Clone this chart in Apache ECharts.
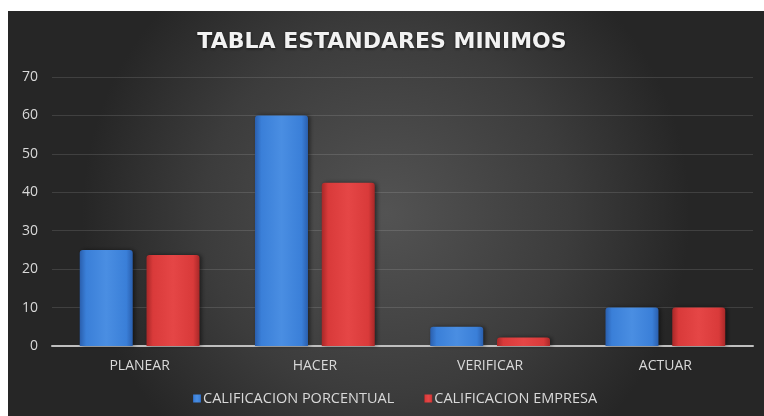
<!DOCTYPE html>
<html><head><meta charset="utf-8">
<script src="https://cdn.jsdelivr.net/npm/echarts@6/dist/echarts.min.js"></script>
<style>html,body{margin:0;padding:0;background:#fff}#c{width:764px;height:416px}</style>
</head><body><div id="c"></div>
<script>
var categories = ['PLANEAR', 'HACER', 'VERIFICAR', 'ACTUAR'];
var porcentual = [25, 60, 5, 10];
var empresa = [23.7, 42.5, 2.2, 10];
var yTicks = [0, 10, 20, 30, 40, 50, 60, 70];
var seriesNames = ['CALIFICACION PORCENTUAL', 'CALIFICACION EMPRESA'];

function barGrad(dark, mid, light) {
  return new echarts.graphic.LinearGradient(0, 0, 1, 0, [
    {offset: 0, color: dark}, {offset: 0.12, color: mid}, {offset: 0.5, color: light},
    {offset: 0.88, color: mid}, {offset: 1, color: dark}
  ]);
}
var chart = echarts.init(document.getElementById('c'));
chart.setOption({
  backgroundColor: '#ffffff',
  graphic: [{
    type: 'rect', z: -10, silent: true,
    shape: {x: 8, y: 11, width: 756, height: 405},
    style: {fill: {type: 'radial', x: 0.5, y: 0.5, r: 0.75, colorStops: [
      {offset: 0, color: '#535353'}, {offset: 0.6, color: '#3c3c3c'}, {offset: 1, color: '#262626'}]}}
  }],
  title: {
    text: 'TABLA ESTANDARES MINIMOS', left: 'center', top: 26,
    textStyle: {color: '#f2f2f2', fontFamily: 'DejaVu Sans', fontWeight: 'bold', fontSize: 22,
      textShadowColor: 'rgba(0,0,0,0.6)', textShadowBlur: 3, textShadowOffsetY: 1}
  },
  legend: {
    data: seriesNames, bottom: 5, left: 188, itemWidth: 8, itemHeight: 8, itemGap: 30,
    icon: 'rect',
    textStyle: {color: '#d9d9d9', fontFamily: 'Open Sans', fontSize: 14.5, padding: [0, 0, 0, -3]}
  },
  grid: {left: 52, right: 11, top: 77, bottom: 70},
  xAxis: {
    type: 'category', data: categories,
    axisLine: {lineStyle: {color: '#bfbfbf', width: 2}},
    axisTick: {show: false},
    axisLabel: {color: '#d9d9d9', fontFamily: 'Open Sans', fontSize: 14, margin: 13}
  },
  yAxis: {
    type: 'value', min: yTicks[0], max: yTicks[yTicks.length - 1], interval: 10,
    axisLine: {show: false}, axisTick: {show: false},
    splitLine: {lineStyle: {color: 'rgba(255,255,255,0.12)', width: 1}},
    axisLabel: {color: '#d9d9d9', fontFamily: 'Open Sans', fontSize: 14, margin: 14}
  },
  series: [{
    name: seriesNames[0], type: 'bar', data: porcentual, barWidth: 53, barGap: '26%',
    itemStyle: {color: barGrad('#2a5fae', '#3a7fd8', '#4a8ee2'), borderRadius: [3, 3, 0, 0],
      shadowColor: 'rgba(0,0,0,0.5)', shadowBlur: 4, shadowOffsetX: 2}
  }, {
    name: seriesNames[1], type: 'bar', data: empresa, barWidth: 53,
    itemStyle: {color: barGrad('#a82828', '#d93a3a', '#e54646'), borderRadius: [3, 3, 0, 0],
      shadowColor: 'rgba(0,0,0,0.5)', shadowBlur: 4, shadowOffsetX: 2}
  }]
});
</script></body></html>
